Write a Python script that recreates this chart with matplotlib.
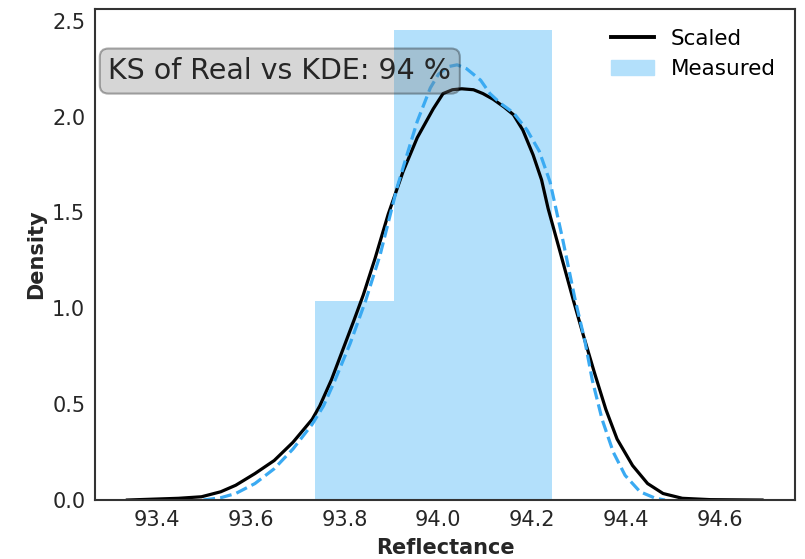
import numpy as np
import matplotlib.pyplot as plt
from matplotlib.lines import Line2D
from matplotlib.patches import Patch

# histograma medido (densidad)
bin_edges = [93.737, 93.906, 94.075, 94.243]
bin_heights = [1.04, 2.45, 2.45]

# curva escalada (linea negra)
scaled_x = [93.337, 93.446, 93.495, 93.536, 93.568, 93.609, 93.65, 93.69, 93.731, 93.747,
            93.772, 93.796, 93.82, 93.84, 93.865, 93.893, 93.925, 93.955, 93.989, 94.01,
            94.03, 94.05, 94.075, 94.095, 94.117, 94.14, 94.16, 94.18, 94.202, 94.22,
            94.234, 94.26, 94.288, 94.308, 94.333, 94.357, 94.381, 94.414, 94.446, 94.479,
            94.52, 94.58, 94.69]
scaled_y = [0.0, 0.009, 0.017, 0.043, 0.077, 0.138, 0.206, 0.301, 0.421, 0.49,
            0.627, 0.782, 0.937, 1.07, 1.26, 1.49, 1.715, 1.89, 2.04, 2.12,
            2.14, 2.145, 2.14, 2.12, 2.09, 2.05, 2.01, 1.93, 1.80, 1.67,
            1.52, 1.29, 1.04, 0.868, 0.662, 0.473, 0.318, 0.18, 0.086, 0.034,
            0.009, 0.002, 0.0]

# kde de los datos medidos (linea discontinua)
kde_x = [93.499, 93.536, 93.568, 93.609, 93.65, 93.69, 93.731, 93.755, 93.78, 93.812,
         93.845, 93.876, 93.912, 93.933, 93.955, 93.983, 94.0, 94.02, 94.04, 94.06,
         94.09, 94.11, 94.132, 94.16, 94.189, 94.215, 94.238, 94.265, 94.292, 94.312,
         94.328, 94.349, 94.373, 94.398, 94.43, 94.463, 94.483]
kde_y = [0.0, 0.012, 0.034, 0.086, 0.163, 0.266, 0.395, 0.49, 0.627, 0.817,
         1.04, 1.28, 1.63, 1.80, 1.975, 2.15, 2.22, 2.26, 2.27, 2.25,
         2.19, 2.12, 2.07, 2.02, 1.93, 1.82, 1.66, 1.36, 1.04, 0.834,
         0.627, 0.421, 0.249, 0.129, 0.043, 0.009, 0.0]

ks_texto = "KS of Real vs KDE: 94 %"

bar_color = '#b3e0fb'
dash_color = '#3aaaf2'

fig = plt.figure(figsize=(8.05, 5.59), dpi=100)
ax = fig.add_axes([0.118, 0.1055, 0.870, 0.878])

anchos = np.diff(bin_edges)
ax.bar(bin_edges[:-1], bin_heights, width=anchos, align='edge', color=bar_color, linewidth=0)
ax.plot(scaled_x, scaled_y, color='black', lw=2.3)
ax.plot(kde_x, kde_y, color=dash_color, lw=2.3, ls='--')

ax.set_xlim(93.268, 94.761)
ax.set_ylim(0, 2.56)
ax.set_xticks([93.4, 93.6, 93.8, 94.0, 94.2, 94.4, 94.6])
ax.set_yticks([0.0, 0.5, 1.0, 1.5, 2.0, 2.5])
ax.tick_params(length=0, labelsize=15, labelcolor='#262626', pad=7)
for s in ax.spines.values():
    s.set_color('#333333')
    s.set_linewidth(1.5)

ax.set_xlabel('Reflectance', fontsize=15, fontweight='bold', color='#262626', labelpad=6)
ax.set_ylabel('Density', fontsize=15, fontweight='bold', color='#262626', labelpad=4)

ax.text(0.019, 0.874, ks_texto, transform=ax.transAxes, fontsize=20.5, va='center',
        color='#262626',
        bbox=dict(boxstyle='round,pad=0.3', facecolor='grey', edgecolor='black', alpha=0.32, lw=1.5))

handles = [Line2D([0], [0], color='black', lw=2.8), Patch(color=bar_color)]
ax.legend(handles, ['Scaled', 'Measured'], loc='upper right', frameon=False, fontsize=15.5,
          handlelength=2.0)

fig.savefig('out.png', dpi=100)
